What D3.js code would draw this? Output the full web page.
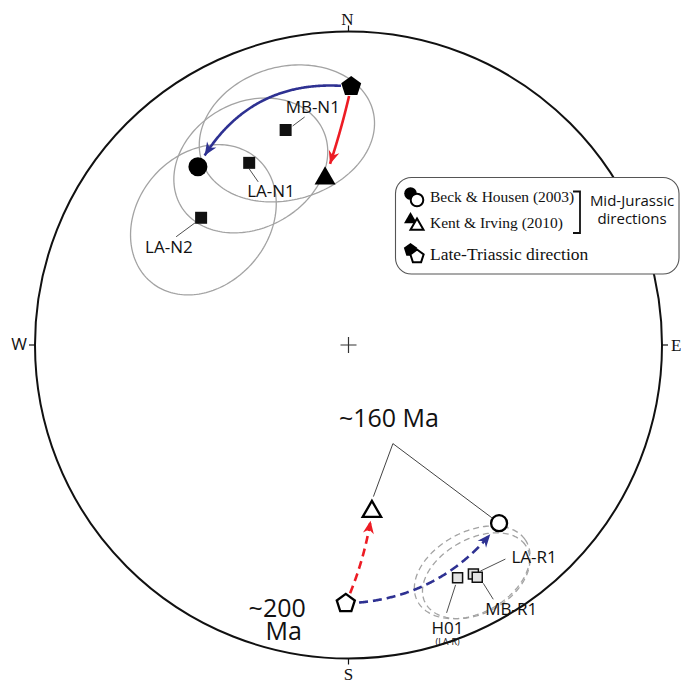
<!DOCTYPE html>
<html><head><meta charset="utf-8">
<script src="https://cdn.jsdelivr.net/npm/d3@7"></script>
<style>html,body{margin:0;padding:0;background:#fff;} svg{display:block}</style>
</head><body><svg id="net" width="681" height="684"></svg>
<script>
// Site mean directions: declination, inclination, alpha95 (degrees)
const siteNames = ["MB-N1", "LA-N1", "LA-N2", "LA-R1", "MB-R1", "H01"];
const siteDec = [343.7, 331.4, 310.8, 151.4, 151.0, 154.9];
const siteInc = [29.3, 34.2, 37.9, -17.9, -16.4, -19.1];
const siteA95 = [20.0, 18.5, 19.0, 13.0, 12.0, 0];

// Reference directions (normal polarity); reversed ones are their antipodes
const refNames = ["Beck & Housen (2003)", "Kent & Irving (2010)", "Late-Triassic direction"];
const refShapes = ["circle", "triangle", "pentagon"];
const refDec = [319.8, 352.0, 0.6];
const refInc = [26.5, 45.4, 18.7];

// Paths between reference directions
const pathFrom = ["pentagon", "pentagon", "pentagon", "pentagon"];
const pathTo = ["circle", "triangle", "circle", "triangle"];
const pathPolarity = ["N", "N", "R", "R"];

const cardinalLabels = ["N", "E", "S", "W"];
const cardinalAz = [0, 90, 180, 270];
const ageLabels = ["~160 Ma", "~200", "Ma"];

// ---- geometry ----
const cx = 348.5, cy = 345, R = 313.5;
const xs = d3.scaleLinear().domain([-1, 1]).range([cx - R, cx + R]);
const ys = d3.scaleLinear().domain([-1, 1]).range([cy + R, cy - R]);
const rad = Math.PI / 180;
const BLUE = "#2e3192", RED = "#ed1c24", GREY = "#a3a3a3";

function vec(dec, inc) {
  return [Math.cos(inc * rad) * Math.cos(dec * rad), Math.cos(inc * rad) * Math.sin(dec * rad), Math.sin(inc * rad)];
}
// Lambert equal-area (Schmidt) projection, both hemispheres folded down
function project(v) {
  const k = 1 / Math.sqrt(1 + Math.abs(v[2]));
  return [xs(v[1] * k), ys(v[0] * k)];
}
function cross(a, b) { return [a[1]*b[2]-a[2]*b[1], a[2]*b[0]-a[0]*b[2], a[0]*b[1]-a[1]*b[0]]; }
function norm(a) { const l = Math.hypot(a[0], a[1], a[2]); return a.map(d => d / l); }
function smallCircle(dec, inc, a) {
  const m = vec(dec, inc);
  const u = norm(cross(m, [0, 0, 1]));
  const w = cross(m, u);
  const ca = Math.cos(a * rad), sa = Math.sin(a * rad);
  return d3.range(0, 360, 2).map(t => {
    const c = Math.cos(t * rad), s = Math.sin(t * rad);
    return project([0, 1, 2].map(i => ca * m[i] + sa * (c * u[i] + s * w[i])));
  });
}

const sites = siteNames.map((n, i) => ({ name: n, dec: siteDec[i], inc: siteInc[i], a95: siteA95[i], p: project(vec(siteDec[i], siteInc[i])) }));
const refs = {};
refShapes.forEach((s, i) => {
  refs[s + "N"] = project(vec(refDec[i], refInc[i]));
  refs[s + "R"] = project(vec(refDec[i] + 180, -refInc[i]));
});

const svg = d3.select("#net");

// ---- symbols ----
function shapePath(shape, size) {
  const p = d3.path();
  if (shape === "circle") { p.arc(0, 0, size, 0, 2 * Math.PI); p.closePath(); }
  else if (shape === "triangle") {
    const h = size * Math.sqrt(3) / 2;
    p.moveTo(0, -2 * h / 3); p.lineTo(size / 2, h / 3); p.lineTo(-size / 2, h / 3); p.closePath();
  } else if (shape === "pentagon") {
    d3.range(5).forEach(k => {
      const a = (-90 + 72 * k) * rad;
      k ? p.lineTo(size * Math.cos(a), size * Math.sin(a)) : p.moveTo(size * Math.cos(a), size * Math.sin(a));
    });
    p.closePath();
  } else { p.rect(-size / 2, -size / 2, size, size); }
  return p.toString();
}
const filledSize = { circle: 9.5, triangle: 21, pentagon: 10.5 };
const openSize = { circle: 8, triangle: 18.5, pentagon: 9.5 };

// ---- primitive circle ----
svg.append("circle").attr("cx", cx).attr("cy", cy).attr("r", R)
  .attr("fill", "none").attr("stroke", "#111").attr("stroke-width", 2);
svg.append("path").attr("d", `M${cx - 8},${cy}H${cx + 8}M${cx},${cy - 8}V${cy + 8}`)
  .attr("stroke", "#333").attr("stroke-width", 1.2);

cardinalLabels.forEach((lab, i) => {
  const a = cardinalAz[i] * rad;
  const sx = Math.sin(a), sy = -Math.cos(a);
  svg.append("line")
    .attr("x1", cx + sx * R).attr("y1", cy + sy * R)
    .attr("x2", cx + sx * (R + 6)).attr("y2", cy + sy * (R + 6))
    .attr("stroke", "#111").attr("stroke-width", 1.2);
  const t = svg.append("text").text(lab)
    .attr("font-family", lab === "W" ? "Open Sans" : "Liberation Serif")
    .attr("font-size", 17).attr("fill", "#111");
  if (lab === "N") t.attr("x", cx - 1).attr("y", cy - R - 7).attr("text-anchor", "middle");
  if (lab === "S") t.attr("x", cx).attr("y", cy + R + 21).attr("text-anchor", "middle");
  if (lab === "E") t.attr("x", cx + R + 9).attr("y", cy + 6).attr("text-anchor", "start");
  if (lab === "W") t.attr("x", cx - R - 8).attr("y", cy + 5).attr("text-anchor", "end");
});

// ---- confidence ovals ----
const oval = d3.line().curve(d3.curveLinearClosed);
sites.filter(s => s.a95 > 0).forEach(s => {
  svg.append("path").attr("d", oval(smallCircle(s.dec, s.inc, s.a95)))
    .attr("fill", "none").attr("stroke", GREY).attr("stroke-width", 1.3)
    .attr("stroke-dasharray", s.inc < 0 ? "6,4" : null);
});

// ---- arrow heads ----
const defs = svg.append("defs");
[["headBlue", BLUE], ["headRed", RED]].forEach(([id, col]) => {
  defs.append("marker").attr("id", id).attr("viewBox", "-14 -7 16 14")
    .attr("refX", 0).attr("refY", 0).attr("markerWidth", 16).attr("markerHeight", 14)
    .attr("markerUnits", "userSpaceOnUse").attr("orient", "auto")
    .append("path").attr("d", "M0,0L-13,-5.5L-9,0L-13,5.5Z").attr("fill", col);
});

// ---- paths between reference directions ----
const pathStyle = [
  { col: BLUE, head: "headBlue", bend: 0.33, gap0: 10, gap1: 12.5, dash: null },
  { col: RED, head: "headRed", bend: -0.03, gap0: 9.5, gap1: 15, dash: null },
  { col: BLUE, head: "headBlue", bend: 0.24, gap0: 13, gap1: 13.5, dash: "9,5" },
  { col: RED, head: "headRed", bend: 0.07, gap0: 11, gap1: 9, dash: "8,5" }
];
const curveLine = d3.line();
pathFrom.forEach((f, i) => {
  const st = pathStyle[i];
  const a = refs[f + pathPolarity[i]], b = refs[pathTo[i] + pathPolarity[i]];
  const dx = b[0] - a[0], dy = b[1] - a[1], L = Math.hypot(dx, dy);
  const c = [(a[0] + b[0]) / 2 - dy / L * st.bend * L, (a[1] + b[1]) / 2 + dx / L * st.bend * L];
  const pts = d3.range(0, 1.0001, 0.005).map(t => [
    (1 - t) * (1 - t) * a[0] + 2 * (1 - t) * t * c[0] + t * t * b[0],
    (1 - t) * (1 - t) * a[1] + 2 * (1 - t) * t * c[1] + t * t * b[1]
  ]).filter(p => Math.hypot(p[0] - a[0], p[1] - a[1]) > st.gap0 && Math.hypot(p[0] - b[0], p[1] - b[1]) > st.gap1);
  svg.append("path").attr("d", curveLine(pts)).attr("fill", "none")
    .attr("stroke", st.col).attr("stroke-width", 2.6)
    .attr("stroke-dasharray", st.dash).attr("marker-end", `url(#${st.head})`);
});

// ---- site labels and leaders ----
const labelLayout = {
  "MB-N1": { lx: 0, ly: -17, l: [7, -4, 19, -13], anchor: "start" },
  "LA-N1": { lx: -2, ly: 34, l: [0, 6, 9, 19], anchor: "start" },
  "LA-N2": { lx: -56, ly: 35, l: [-6, 5, -25, 19], anchor: "start" },
  "LA-R1": { lx: 38, ly: -11, l: [7, -3, 32, -15], anchor: "start" },
  "MB-R1": { lx: 8, ly: 38, l: [6, 6, 16, 22], anchor: "start" },
  "H01": { lx: -10, ly: 56, l: [-2, 7, -11, 35], anchor: "middle" }
};
sites.forEach(s => {
  const L = labelLayout[s.name];
  svg.append("line").attr("x1", s.p[0] + L.l[0]).attr("y1", s.p[1] + L.l[1])
    .attr("x2", s.p[0] + L.l[2]).attr("y2", s.p[1] + L.l[3])
    .attr("stroke", "#222").attr("stroke-width", 0.8);
  svg.append("text").text(s.name).attr("x", s.p[0] + L.lx).attr("y", s.p[1] + L.ly)
    .attr("text-anchor", L.anchor).attr("font-family", "Open Sans").attr("font-size", 17).attr("fill", "#111");
  if (s.name === "H01") {
    svg.append("text").text("(LA-R)").attr("x", s.p[0] + L.lx).attr("y", s.p[1] + L.ly + 11.5)
      .attr("text-anchor", "middle").attr("font-family", "Open Sans").attr("font-size", 9).attr("fill", "#111");
  }
});

// ---- site squares ----
const drawOrder = [0, 1, 2, 5, 3, 4];
drawOrder.map(i => sites[i]).forEach(s => {
  const normal = s.inc >= 0;
  svg.append("path").attr("d", shapePath("square", normal ? 12 : 10))
    .attr("transform", `translate(${s.p[0]},${s.p[1]})`)
    .attr("fill", normal ? "#111" : "#e3e3e3")
    .attr("stroke", normal ? "none" : "#111").attr("stroke-width", 1.5);
});

// ---- age annotations ----
const triR = refs.triangleR, cirR = refs.circleR, penR = refs.pentagonR;
const vtx = [triR[0] + 21, triR[1] - 68];
const triTop = [triR[0] + 1.5, triR[1] - 15];
const toC = Math.hypot(cirR[0] - vtx[0], cirR[1] - vtx[1]);
const cirEnd = [cirR[0] - (cirR[0] - vtx[0]) / toC * 9, cirR[1] - (cirR[1] - vtx[1]) / toC * 9];
svg.append("path").attr("d", `M${triTop}L${vtx}L${cirEnd}`).attr("fill", "none")
  .attr("stroke", "#111").attr("stroke-width", 0.8);
svg.append("text").text(ageLabels[0]).attr("x", vtx[0] - 4).attr("y", vtx[1] - 17)
  .attr("text-anchor", "middle").attr("font-family", "Open Sans").attr("font-size", 25).attr("fill", "#111");
svg.append("text").text(ageLabels[1]).attr("x", penR[0] - 40).attr("y", penR[1] + 14)
  .attr("text-anchor", "end").attr("font-family", "Open Sans").attr("font-size", 25).attr("fill", "#111");
svg.append("text").text(ageLabels[2]).attr("x", penR[0] - 44).attr("y", penR[1] + 37)
  .attr("text-anchor", "end").attr("font-family", "Open Sans").attr("font-size", 25).attr("fill", "#111");

// ---- reference direction symbols ----
refShapes.forEach(sh => {
  const n = refs[sh + "N"], r = refs[sh + "R"];
  svg.append("path").attr("d", shapePath(sh, filledSize[sh])).attr("transform", `translate(${n})`).attr("fill", "#000");
  svg.append("path").attr("d", shapePath(sh, openSize[sh])).attr("transform", `translate(${r})`)
    .attr("fill", "#fff").attr("stroke", "#000").attr("stroke-width", 2.3).attr("stroke-linejoin", "miter");
});

// ---- legend ----
const lg = svg.append("g");
lg.append("rect").attr("x", 395.5).attr("y", 177.5).attr("width", 283.5).attr("height", 96.5).attr("rx", 16)
  .attr("fill", "#fff").attr("stroke", "#555").attr("stroke-width", 1.1);
const legendRows = [196.5, 222.5, 253];
const iconSize = { circle: 6.3, triangle: 13, pentagon: 7 };
refShapes.forEach((sh, i) => {
  const y = legendRows[i];
  lg.append("path").attr("d", shapePath(sh, iconSize[sh])).attr("transform", `translate(410.5,${y - 3})`).attr("fill", "#000");
  lg.append("path").attr("d", shapePath(sh, iconSize[sh])).attr("transform", `translate(417,${y + 3.5})`)
    .attr("fill", "#fff").attr("stroke", "#000").attr("stroke-width", 2);
  lg.append("text").text(refNames[i]).attr("x", 430).attr("y", y + (i === 2 ? 6.5 : 5.5))
    .attr("font-family", "Liberation Serif").attr("font-size", i === 2 ? 17.5 : 15.5).attr("fill", "#111");
});
lg.append("path").attr("d", "M573,191.5H580V233H573").attr("fill", "none").attr("stroke", "#111").attr("stroke-width", 1.8);
lg.append("text").text("Mid-Jurassic").attr("x", 632).attr("y", 206).attr("text-anchor", "middle")
  .attr("font-family", "Open Sans").attr("font-size", 15).attr("fill", "#111");
lg.append("text").text("directions").attr("x", 632).attr("y", 223.5).attr("text-anchor", "middle")
  .attr("font-family", "Open Sans").attr("font-size", 15).attr("fill", "#111");
</script></body></html>
